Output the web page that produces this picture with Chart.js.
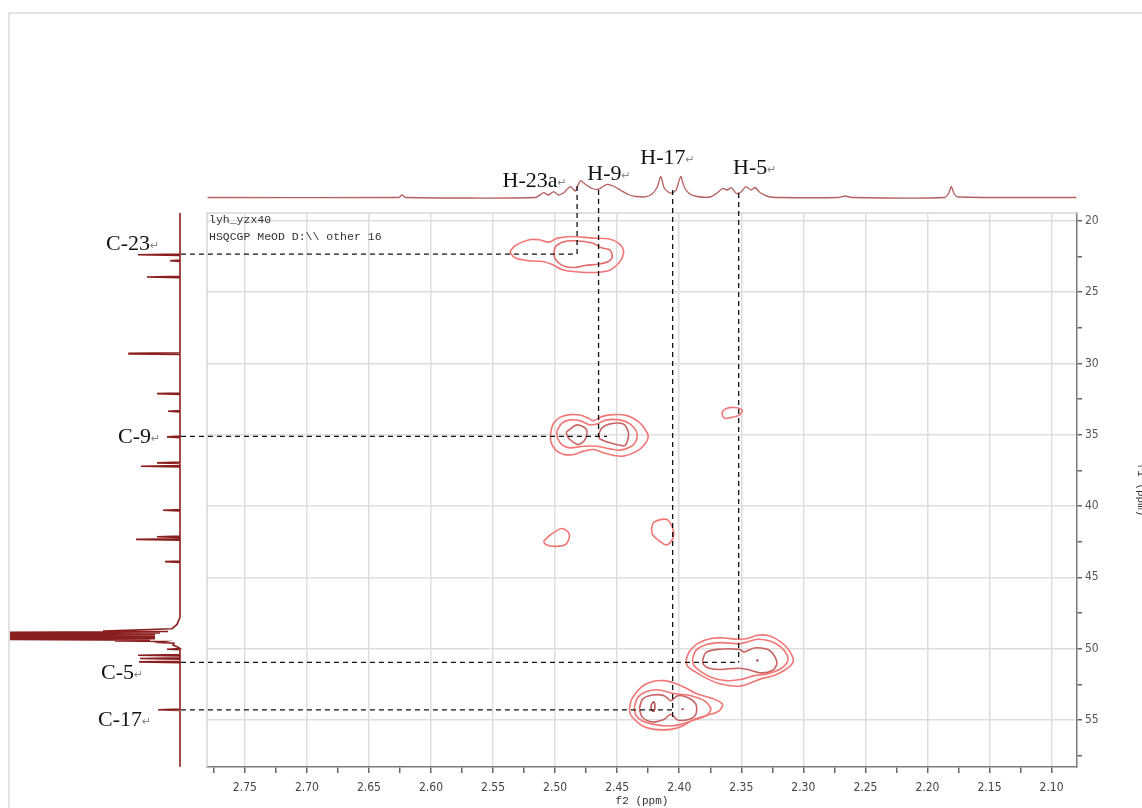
<!DOCTYPE html>
<html>
<head>
<meta charset="utf-8">
<title>HSQC</title>
<script src="https://cdn.jsdelivr.net/npm/chart.js@4.4.1/dist/chart.umd.min.js"></script>
<style>
    html, body { margin: 0; padding: 0; background: #fff; }
    #wrap { position: relative; width: 1142px; height: 808px; overflow: hidden; }
    #hsqc { position: absolute; left: 0; top: 0; }
    #frame {
        position: absolute; left: 8px; top: 12px; right: 0; bottom: 0;
        border-left: 2px solid #e3e3e3; border-top: 2px solid #e3e3e3;
        pointer-events: none;
    }
</style>
</head>
<body>
<div id="wrap">
    <canvas id="hsqc" width="1142" height="808"></canvas>
    <div id="frame"></div>
</div>
<script>
// ============================================
// HSQC spectrum (f2 = 1H, f1 = 13C)
// ============================================

// --- 1D proton trace on top: [ppm, height]
const topPpm = [2.7800, 2.6261, 2.6233, 2.6205, 2.5159, 2.5092, 2.5054, 2.5012, 2.4974, 2.4934,
    2.4877, 2.4837, 2.4797, 2.4749, 2.4700, 2.4652, 2.4620, 2.4582, 2.4531, 2.4475,
    2.4411, 2.4346, 2.4274, 2.4218, 2.4177, 2.4149, 2.4121, 2.4089, 2.4057, 2.4025,
    2.3988, 2.3960, 2.3920, 2.3856, 2.3751, 2.3695, 2.3650, 2.3614, 2.3580, 2.3539,
    2.3502, 2.3464, 2.3421, 2.3389, 2.3349, 2.3284, 2.3188, 2.2721, 2.2665, 2.2609,
    2.1860, 2.1828, 2.1808, 2.1788, 2.1756, 2.0800];
const topInt = [0, 0, 2.5, 0, 0, 4.8, 2.5, 5.8, 2.5, 4.5,
    10.8, 6.5, 16.8, 12.5, 9, 8.2, 10.5, 13.2, 11.5, 7.5,
    3, 1, 0.7, 3.5, 10.5, 21, 9.5, 5.5, 4.5, 7.5,
    21, 10.5, 4, 1, 0.5, 4.5, 9.2, 7.5, 9.8, 4,
    5.5, 10.9, 7.5, 10, 5, 1, 0, 0, 1.5, 0,
    0, 4.5, 11, 4.5, 0.5, 0];

// --- 1D carbon trace on the left: [ppm, height]
const leftPpm = [19.45,
    22.33, 22.38, 22.43, 22.75, 22.80, 22.85, 23.89, 23.94, 23.99,
    29.25, 29.29, 29.33, 29.37, 32.07, 32.12, 32.17, 33.30, 33.35, 33.40,
    35.10, 35.15, 35.20, 36.92, 36.97, 37.02, 37.16, 37.21, 37.26,
    40.24, 40.29, 40.34, 42.10, 42.15, 42.20, 42.29, 42.34, 42.39, 43.85, 43.90, 43.95,
    47.80, 48.30, 48.60, 48.76, 48.80, 48.85, 48.90, 48.95, 49.00, 49.05, 49.10, 49.15,
    49.20, 49.25, 49.30, 49.35, 49.40, 49.46, 49.50, 49.57, 49.62, 49.75, 49.90,
    50.00, 50.04, 50.08, 50.41, 50.46, 50.51, 50.64, 50.69, 50.74, 50.88, 50.93, 50.98,
    54.24, 54.29, 54.34, 58.28];
const leftInt = [0,
    0, 42, 0, 0, 10, 0, 0, 33, 0,
    0, 51, 51, 0, 0, 23, 0, 0, 12, 0,
    0, 13, 0, 0, 23, 0, 0, 39, 0,
    0, 17, 0, 0, 23, 0, 0, 44, 0, 0, 15, 0,
    0, 3, 8, 77, 12, 172, 20, 172, 25, 172, 25, 172,
    25, 172, 25, 172, 30, 65, 15, 20, 6, 7, 2,
    0, 13, 0, 0, 42, 0, 0, 40, 0, 0, 41, 0,
    0, 22, 0, 0];

// --- contours: [f2 ppm, f1 ppm]
const c23Outer = [[2.536,22.10],[2.532,21.73],[2.521,21.33],[2.513,21.33],[2.505,21.49],[2.498,21.21],[2.486,21.10],[2.470,21.21],[2.457,21.26],[2.449,21.56],[2.445,22.03],[2.446,22.61],[2.450,23.08],[2.457,23.50],[2.468,23.62],[2.481,23.59],[2.494,23.43],[2.502,23.08],[2.510,22.85],[2.521,22.80],[2.532,22.61],[2.536,22.26]];
const c23Inner = [[2.500,21.80],[2.494,21.49],[2.484,21.40],[2.470,21.56],[2.462,21.91],[2.456,22.03],[2.454,22.50],[2.457,22.85],[2.465,23.03],[2.476,23.13],[2.484,23.27],[2.492,23.20],[2.498,22.89],[2.501,22.38]];
const c9Outer = [[2.5035,34.77],[2.5013,34.19],[2.496,33.78],[2.488,33.59],[2.480,33.62],[2.473,33.85],[2.469,34.01],[2.4625,33.73],[2.453,33.59],[2.442,33.66],[2.433,34.08],[2.428,34.54],[2.425,35.12],[2.428,35.69],[2.434,36.15],[2.445,36.50],[2.453,36.45],[2.461,36.27],[2.469,36.04],[2.477,36.15],[2.485,36.38],[2.493,36.38],[2.500,36.04],[2.5035,35.46]];
const c9Mid = [[2.4987,34.77],[2.4946,34.19],[2.488,33.96],[2.480,34.01],[2.4719,34.31],[2.4665,34.24],[2.4585,33.96],[2.4478,33.96],[2.4397,34.24],[2.4344,34.77],[2.4344,35.35],[2.4384,35.81],[2.4478,36.08],[2.4558,35.99],[2.4665,35.81],[2.4772,35.81],[2.488,35.92],[2.4946,35.69],[2.4981,35.23]];
const c9InnerL = [[2.4912,34.84],[2.4826,34.31],[2.4746,34.65],[2.4759,35.35],[2.4813,35.69],[2.4893,35.23]];
const c9InnerR = [[2.4652,35.07],[2.4625,34.54],[2.4558,34.24],[2.4451,34.24],[2.4411,34.77],[2.4411,35.23],[2.4438,35.76],[2.4505,35.69],[2.4572,35.53],[2.4638,35.30]];
const s33 = [[2.3653,33.39],[2.3621,33.16],[2.3554,33.09],[2.3493,33.27],[2.3515,33.62],[2.3581,33.78],[2.3635,33.85],[2.3653,33.62]];
const s42a = [[2.5094,42.49],[2.504,42.03],[2.4946,41.57],[2.4885,41.98],[2.4912,42.67],[2.500,42.83],[2.5072,42.72]];
const s42b = [[2.4223,41.57],[2.4205,41.15],[2.4117,40.92],[2.4077,41.11],[2.4045,41.80],[2.405,42.26],[2.4104,42.72],[2.4170,42.37],[2.4216,41.98]];
const c5Outer = [[2.3946,50.83],[2.392,50.24],[2.3853,49.65],[2.3745,49.29],[2.3638,49.25],[2.3531,49.34],[2.345,49.29],[2.337,49.06],[2.3276,49.10],[2.3182,49.53],[2.3115,50.12],[2.308,50.83],[2.3102,51.18],[2.3155,51.53],[2.3236,51.89],[2.3343,52.12],[2.345,52.48],[2.3531,52.64],[2.3665,52.48],[2.3772,52.12],[2.3866,51.65],[2.3933,51.23]];
const c5Mid = [[2.3893,50.71],[2.3866,50.12],[2.3786,49.72],[2.3665,49.58],[2.3517,49.65],[2.345,49.53],[2.337,49.34],[2.3263,49.48],[2.3182,49.88],[2.3129,50.47],[2.3129,50.94],[2.3182,51.41],[2.329,51.77],[2.3397,51.89],[2.3504,52.17],[2.3625,52.24],[2.3745,52.00],[2.3839,51.53],[2.3885,51.13]];
const c5Inner = [[2.3812,50.83],[2.3786,50.28],[2.3692,50.05],[2.3517,50.05],[2.3477,50.24],[2.3397,49.95],[2.329,50.05],[2.3236,50.47],[2.3214,51.06],[2.3249,51.53],[2.3343,51.70],[2.345,51.46],[2.3531,51.37],[2.3665,51.46],[2.3759,51.37],[2.3804,51.13]];
const c17Outer = [[2.4402,54.24],[2.4383,53.54],[2.4308,52.71],[2.4214,52.31],[2.4121,52.24],[2.404,52.41],[2.396,52.71],[2.3853,53.18],[2.3718,53.54],[2.3651,53.89],[2.3678,54.36],[2.3772,54.67],[2.3879,54.95],[2.3973,55.42],[2.4067,55.66],[2.4201,55.66],[2.4295,55.42],[2.4362,54.95],[2.4394,54.60]];
const c17Mid = [[2.4362,54.13],[2.4335,53.42],[2.4268,53.02],[2.4174,52.88],[2.408,53.07],[2.4013,53.18],[2.3906,53.30],[2.3799,53.65],[2.3745,54.24],[2.3786,54.72],[2.3879,55.00],[2.3987,55.31],[2.4094,55.42],[2.4201,55.31],[2.4295,55.07],[2.4349,54.67]];
const c17Inner = [[2.4322,54.24],[2.4295,53.54],[2.4214,53.25],[2.4121,53.30],[2.4067,53.65],[2.4013,53.30],[2.3933,53.42],[2.3866,53.89],[2.3866,54.60],[2.3920,54.95],[2.4013,55.00],[2.4067,54.60],[2.4121,54.95],[2.4214,55.14],[2.4295,54.83]];
const c17Core = [[2.4223,53.89],[2.4206,53.73],[2.4196,54.01],[2.4201,54.36],[2.4217,54.36],[2.4228,54.13]];
const peakDots = [[2.337,50.83],[2.3973,54.24]];

// contour list and level of each
const contourList = [c23Outer, c23Inner, c9Outer, c9Mid, c9InnerL, c9InnerR, s33, s42a, s42b,
    c5Outer, c5Mid, c5Inner, c17Outer, c17Mid, c17Inner, c17Core];
const contourLevel = [0, 1, 0, 0, 2, 2, 0, 0, 0, 0, 0, 2, 0, 0, 2, 3];

// --- assignment lines (dashed)
const hLineNames = ['C-23', 'C-9', 'C-5', 'C-17'];
const hLinePpm = [22.33, 35.11, 50.97, 54.29];
const hLineEnd = [2.4823, 2.4582, 2.3521, 2.4053];
const hLineStart = 2.8015;
const vLineNames = ['H-23a', 'H-9', 'H-17', 'H-5'];
const vLinePpm = [2.4823, 2.4650, 2.4053, 2.3521];
const vLineTop = [17.55, 17.83, 17.83, 18.04];
const vLineEnd = [22.33, 35.11, 54.83, 50.97];

// --- label anchors
const topLabelPpm = [2.5424, 2.4741, 2.4314, 2.3566];
const topLabelInt = [10.5, 18, 34, 23.5];
const leftLabelInt = [30, 29, 46, 38];
const leftLabelPpm = [22.03, 35.58, 52.14, 55.44];
const infoLines = ['lyh_yzx40', 'HSQCGP MeOD D:\\\\ other 16'];

const levelColor = ['#f27676', '#e46c6c', '#c96262', '#b35555'];
const tickFont = '"Liberation Sans Narrow", "DejaVu Sans Condensed", "Liberation Sans", sans-serif';

function isMajor(v, step) {
    return Math.abs(Math.round(v / step) * step - v) < 1e-6;
}

function toXY(pts, close) {
    const a = pts.map(p => ({ x: p[0], y: p[1] }));
    if (close) a.push(a[0]);
    return a;
}

// Build datasets
let datasets = [];

// dashed assignment lines (first = drawn on top)
hLinePpm.forEach((y, i) => {
    datasets.push({
        data: [{ x: hLineStart, y: y }, { x: hLineEnd[i], y: y }],
        showLine: true, pointRadius: 0, borderColor: '#111', borderWidth: 1.3,
        borderDash: [5, 4], clip: false
    });
});
vLinePpm.forEach((x, i) => {
    datasets.push({
        data: [{ x: x, y: vLineTop[i] }, { x: x, y: vLineEnd[i] }],
        showLine: true, pointRadius: 0, borderColor: '#111', borderWidth: 1.3,
        borderDash: [5, 4], clip: false
    });
});

datasets.push({
    data: toXY(peakDots, false), pointRadius: 1.2, pointBorderWidth: 0,
    pointBackgroundColor: '#b04848'
});

contourList.forEach((pts, i) => {
    datasets.push({
        data: toXY(pts, true), showLine: true, pointRadius: 0,
        borderColor: levelColor[contourLevel[i]], borderWidth: 1.6, tension: 0.3
    });
});

// 1D traces
datasets.push({
    data: topPpm.map((p, i) => ({ x: p, y: topInt[i] })),
    yAxisID: 'yTop', showLine: true, pointRadius: 0,
    borderColor: '#b65f5f', borderWidth: 1.3, tension: 0.2, clip: false
});
datasets.push({
    data: leftPpm.map((p, i) => ({ x: leftInt[i], y: p })),
    xAxisID: 'xLeft', showLine: true, pointRadius: 0,
    borderColor: '#8b1f1f', borderWidth: 1.6, tension: 0, clip: false
});

// frame + text labels
const annotPlugin = {
    id: 'annot',
    beforeDatasetsDraw(chart) {
        const { ctx, chartArea: a } = chart;
        ctx.save();
        ctx.strokeStyle = '#d8d8d8';
        ctx.lineWidth = 1.5;
        ctx.beginPath();
        ctx.moveTo(a.left, a.bottom);
        ctx.lineTo(a.left, a.top);
        ctx.lineTo(a.right, a.top);
        ctx.stroke();
        ctx.restore();
    },
    afterDatasetsDraw(chart) {
        const { ctx, chartArea: a, scales } = chart;
        ctx.save();
        ctx.textBaseline = 'alphabetic';

        // spectrum info
        ctx.font = '11.5px "Liberation Mono", "DejaVu Sans Mono", monospace';
        ctx.fillStyle = '#333';
        ctx.textAlign = 'left';
        infoLines.forEach((t, i) => ctx.fillText(t, a.left + 2, a.top + 9.5 + i * 17.5));

        const labelFont = '22px "Liberation Serif", "Times New Roman", serif';
        const markFont = '11px "DejaVu Sans", sans-serif';

        // proton labels above
        vLineNames.forEach((t, i) => {
            const x = scales.x.getPixelForValue(topLabelPpm[i]);
            const y = scales.yTop.getPixelForValue(topLabelInt[i]);
            ctx.font = labelFont;
            ctx.fillStyle = '#111';
            ctx.fillText(t, x, y);
            const w = ctx.measureText(t).width;
            ctx.font = markFont;
            ctx.fillStyle = '#888';
            ctx.fillText('\u21b5', x + w, y - 1);
        });

        // carbon labels on the left
        hLineNames.forEach((t, i) => {
            const x = scales.xLeft.getPixelForValue(leftLabelInt[i]);
            const y = scales.y.getPixelForValue(leftLabelPpm[i]);
            ctx.font = labelFont;
            ctx.fillStyle = '#111';
            const w = ctx.measureText(t).width;
            ctx.fillText(t, x - w, y);
            ctx.font = markFont;
            ctx.fillStyle = '#888';
            ctx.fillText('\u21b5', x, y - 1);
        });
        ctx.restore();
    }
};

const ctx = document.getElementById('hsqc').getContext('2d');
const hsqcChart = new Chart(ctx, {
    type: 'scatter',
    data: { datasets: datasets },
    plugins: [annotPlugin],
    options: {
        responsive: false,
        animation: false,
        events: [],
        layout: { padding: { left: 207, top: 213, right: -6, bottom: 0 } },
        plugins: {
            legend: { display: false },
            tooltip: { enabled: false }
        },
        scales: {
            x: {
                type: 'linear',
                position: 'bottom',
                reverse: true,
                min: 2.0795,
                max: 2.7805,
                afterFit: s => { s.height = 41; },
                grid: {
                    color: c => (c.tick && isMajor(c.tick.value, 0.05)) ? '#dedede' : 'rgba(0,0,0,0)',
                    lineWidth: 1.5,
                    tickColor: '#666',
                    tickLength: 6
                },
                border: { color: '#7a7a7a', width: 1.5 },
                ticks: {
                    stepSize: 0.025,
                    includeBounds: false,
                    autoSkip: false,
                    maxRotation: 0,
                    padding: 8,
                    color: '#444',
                    font: { family: tickFont, size: 12 },
                    callback: v => isMajor(v, 0.05) ? v.toFixed(2) : ''
                },
                title: {
                    display: true,
                    text: 'f2 (ppm)',
                    color: '#333',
                    padding: 0,
                    font: { family: '"Liberation Mono", monospace', size: 11 }
                }
            },
            y: {
                type: 'linear',
                position: 'right',
                reverse: true,
                min: 19.45,
                max: 58.3,
                afterFit: s => { s.width = 71; },
                grid: {
                    color: c => (c.tick && isMajor(c.tick.value, 5)) ? '#dedede' : 'rgba(0,0,0,0)',
                    lineWidth: 1.5,
                    tickColor: '#666',
                    tickLength: 5
                },
                border: { color: '#7a7a7a', width: 1.5 },
                ticks: {
                    stepSize: 2.5,
                    includeBounds: false,
                    autoSkip: false,
                    padding: 3,
                    color: '#555',
                    font: { family: tickFont, size: 12 },
                    callback: v => isMajor(v, 5) ? String(Math.round(v)) : ''
                },
                title: {
                    display: true,
                    text: 'f1 (ppm)',
                    color: '#333',
                    padding: 0,
                    font: { family: '"Liberation Mono", monospace', size: 11 }
                }
            },
            // height axis of the proton trace (hidden)
            yTop: {
                type: 'linear',
                axis: 'y',
                position: 'left',
                display: false,
                min: -569.5,
                max: -15.5
            },
            // height axis of the carbon trace (hidden)
            xLeft: {
                type: 'linear',
                axis: 'x',
                position: 'bottom',
                display: false,
                reverse: true,
                min: -897,
                max: -27
            }
        }
    }
});
</script>
</body>
</html>
